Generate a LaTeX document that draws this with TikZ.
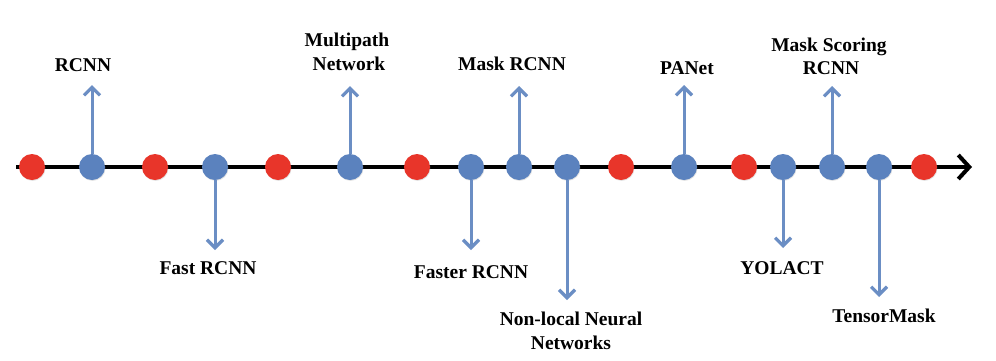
\documentclass[tikz,border=0pt]{standalone}
\usepackage{fontspec}
\setmainfont{Liberation Serif}
\usetikzlibrary{arrows.meta,shadows}
\definecolor{dotred}{HTML}{E8352A}
\definecolor{dotblue}{HTML}{5B82BE}
\definecolor{arrblue}{HTML}{6B8EC4}
\begin{document}
\begin{tikzpicture}[x=1pt,y=-1pt,
  lbl/.style={anchor=base,inner sep=0pt,font=\fontsize{19.5}{23}\selectfont\bfseries},
  dotbase/.style={circle,minimum size=26pt,inner sep=0pt,
    drop shadow={opacity=0.22,shadow xshift=0.6pt,shadow yshift=-0.9pt}},
  dotR/.style={dotbase,fill=dotred},
  dotB/.style={dotbase,fill=dotblue},
  vline/.style={draw=arrblue,line width=3pt,
    -{Straight Barb[length=8pt,width=16pt,line width=3.2pt]}},
  axisline/.style={draw=black,line width=4pt,
    -{Straight Barb[length=11pt,width=24pt,line width=4pt]}}
]
\useasboundingbox (0,0) rectangle (996,360);
% axis
\coordinate (ax0) at (16,167);
\coordinate (ax1) at (972,167);
\draw[axisline] (ax0) -- (ax1);
% dots
\foreach \n/\x/\c in {1/32/R,2/92/B,3/155/R,4/215/B,5/278/R,6/350/B,7/417/R,
  8/471/B,9/519/B,10/567/B,11/621/R,12/684/B,13/744/R,14/783/B,15/832/B,
  16/879/B,17/924/R}
  \node[dot\c] (d\n) at (\x,167) {};
% arrow tips
\coordinate (t2) at (92,85);
\coordinate (t4) at (215,250);
\coordinate (t6) at (350,86);
\coordinate (t8) at (471,250);
\coordinate (t9) at (519,86);
\coordinate (t10) at (567,300);
\coordinate (t12) at (684,85);
\coordinate (t14) at (783,248);
\coordinate (t15) at (832,86);
\coordinate (t16) at (879,297);
\foreach \n in {2,4,6,8,9,10,12,14,15,16}
  \draw[vline] (d\n) -- (t\n);
% labels
\node[lbl] (l2) at (83,71.5) {RCNN};
\node[lbl] (l6a) at (347,46.5) {Multipath};
\node[lbl] (l6b) at (349,70.5) {Network};
\node[lbl] (l9) at (512,70.5) {Mask RCNN};
\node[lbl] (l12) at (687,74.5) {PANet};
\node[lbl] (l15a) at (829,51.5) {Mask Scoring};
\node[lbl] (l15b) at (831,74.5) {RCNN};
\node[lbl] (l4) at (208,274.5) {Fast RCNN};
\node[lbl] (l8) at (471,278.5) {Faster RCNN};
\node[lbl] (l10a) at (571,325.5) {Non-local Neural};
\node[lbl] (l10b) at (571,349.5) {Networks};
\node[lbl] (l14) at (782,274.5) {YOLACT};
\node[lbl] (l16) at (884,322.5) {TensorMask};
\end{tikzpicture}
\end{document}
